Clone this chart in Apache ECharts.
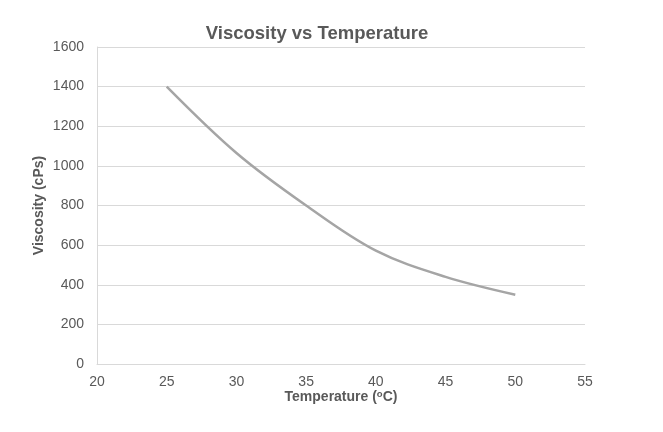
<!DOCTYPE html>
<html>
<head>
<meta charset="utf-8">
<script src="https://cdn.jsdelivr.net/npm/echarts@6/dist/echarts.min.js"></script>
<style>
html,body{margin:0;padding:0;background:#fff;}
#chart{width:663px;height:432px;}
</style>
</head>
<body>
<div id="chart"></div>
<script>
const temperatures = [25, 30, 35, 40, 45, 50];
const viscosities = [1400, 1065, 800, 572, 440, 350];
const titleText = 'Viscosity vs Temperature';
const xAxisName = 'Temperature';
const yAxisName = 'Viscosity (cPs)';

const chart = echarts.init(document.getElementById('chart'), null, {renderer: 'canvas'});
const font = 'Liberation Sans, Arial, sans-serif';
chart.setOption({
  animation: false,
  backgroundColor: '#ffffff',
  title: {
    text: titleText,
    left: 312,
    top: 19,
    textAlign: 'center',
    textStyle: {fontFamily: font, fontSize: 18.5, fontWeight: 'bold', color: '#595959'}
  },
  grid: {left: 97, right: 78, top: 47, bottom: 68, containLabel: false},
  xAxis: {
    type: 'value',
    min: 20, max: 55, interval: 5,
    name: '{n|' + xAxisName + ' (}{s|o}{n|C)}',
    nameLocation: 'middle',
    nameGap: 25,
    nameMoveOverlap: false,
    nameTextStyle: {
      rich: {
        n: {fontFamily: font, fontSize: 14, fontWeight: 'bold', color: '#595959'},
        s: {fontFamily: font, fontSize: 9.5, fontWeight: 'bold', color: '#595959', verticalAlign: 'top', padding: [0,0,6,0]}
      }
    },
    axisLine: {show: true, lineStyle: {color: '#d9d9d9', width: 1}},
    axisTick: {show: false},
    splitLine: {show: false},
    axisLabel: {fontFamily: font, fontSize: 14, color: '#595959', margin: 11, formatter: v => String(v)}
  },
  yAxis: {
    type: 'value',
    min: 0, max: 1600, interval: 200,
    name: yAxisName,
    nameLocation: 'middle',
    nameGap: 51,
    nameMoveOverlap: false,
    nameTextStyle: {fontFamily: font, fontSize: 14, fontWeight: 'bold', color: '#595959'},
    axisLine: {show: true, lineStyle: {color: '#d9d9d9', width: 1}},
    axisTick: {show: false},
    splitLine: {show: true, lineStyle: {color: '#d9d9d9', width: 1}},
    axisLabel: {fontFamily: font, fontSize: 14, color: '#595959', margin: 13, formatter: v => String(v)}
  },
  series: [{
    type: 'line',
    data: temperatures.map((t, i) => [t, viscosities[i]]),
    smooth: 0.35,
    showSymbol: false,
    symbol: 'none',
    lineStyle: {color: '#a5a5a5', width: 2.5}
  }]
});
</script>
</body>
</html>
